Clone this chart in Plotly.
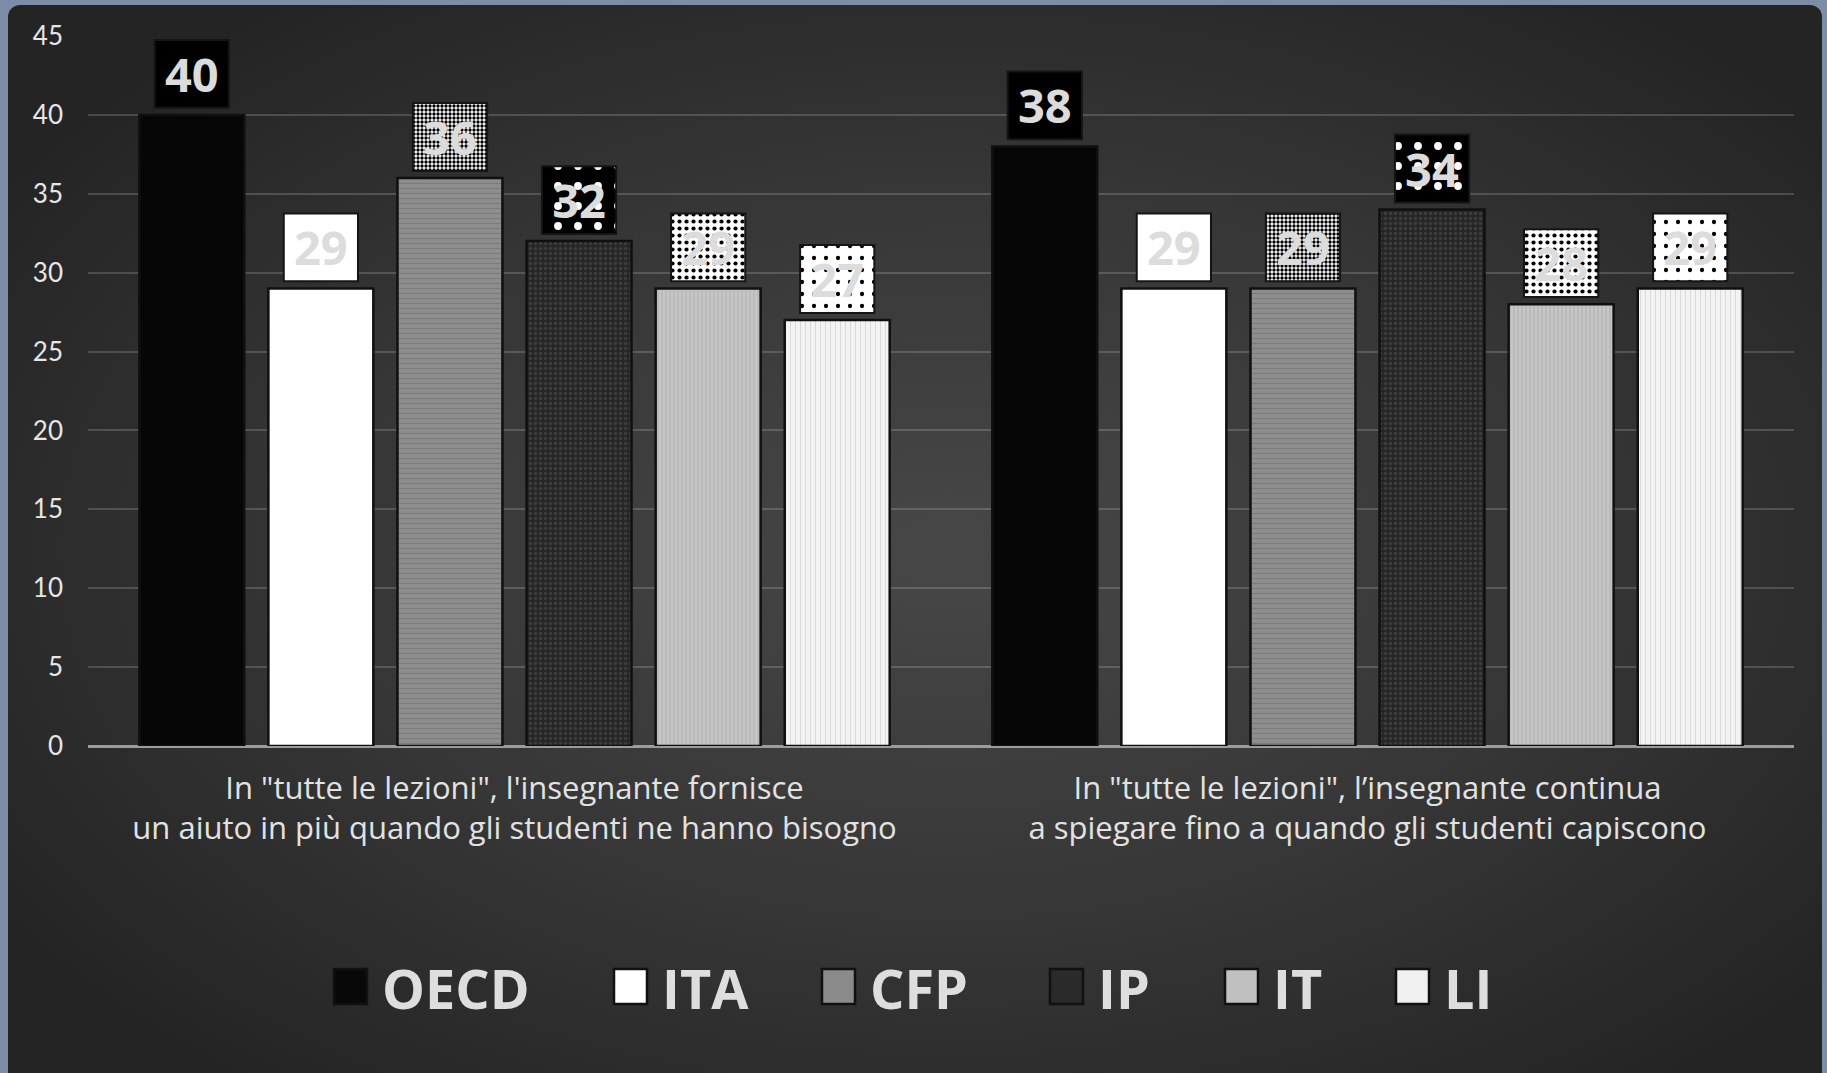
import base64
import plotly.graph_objects as go

# ---------------- data ----------------
categories = [
    'In "tutte le lezioni", l\'insegnante fornisce<br>un aiuto in più quando gli studenti ne hanno bisogno',
    'In "tutte le lezioni", l’insegnante continua<br>a spiegare fino a quando gli studenti capiscono',
]
series_names = ["OECD", "ITA", "CFP", "IP", "IT", "LI"]
oecd_vals = [40, 38]
ita_vals = [29, 29]
cfp_vals = [36, 29]
ip_vals = [32, 34]
it_vals = [29, 28]
li_vals = [27, 29]
series_values = [oecd_vals, ita_vals, cfp_vals, ip_vals, it_vals, li_vals]
y_ticks = [0, 5, 10, 15, 20, 25, 30, 35, 40, 45]

# ---------------- styles ----------------
W, H = 1827, 1073
ML, MR, MT, MB = 88, 33, 36, 327
PW, PH = W - ML - MR, H - MT - MB
BOLD_FONT = "Open Sans"

bar_styles = [
    dict(color="#060606", pattern=dict(shape="")),
    dict(color="#ffffff", pattern=dict(shape="")),
    dict(color="#8b8b8b", pattern=dict(shape="-", fgcolor="#7c7c7c", bgcolor="#8e8e8e", size=5, solidity=0.25, fillmode="replace")),
    dict(color="#2a2a2a", pattern=dict(shape=".", fgcolor="#3d3d3d", bgcolor="#262626", size=5, solidity=0.35, fillmode="replace")),
    dict(color="#c3c3c3", pattern=dict(shape="|", fgcolor="#b3b3b3", bgcolor="#c6c6c6", size=4, solidity=0.3, fillmode="replace")),
    dict(color="#f0f0f0", pattern=dict(shape="|", fgcolor="#dadada", bgcolor="#f3f3f3", size=5, solidity=0.2, fillmode="replace")),
]
box_styles = [
    dict(color="#000000", pattern=dict(shape="")),
    dict(color="#ffffff", pattern=dict(shape="")),
    dict(color="#808080", pattern=dict(shape=".", fgcolor="#000000", bgcolor="#ffffff", size=4, solidity=0.55, fillmode="replace")),
    dict(color="#000000", pattern=dict(shape=".", fgcolor="#ffffff", bgcolor="#000000", size=20, solidity=0.12, fillmode="replace")),
    dict(color="#ffffff", pattern=dict(shape=".", fgcolor="#000000", bgcolor="#ffffff", size=7, solidity=0.28, fillmode="replace")),
    dict(color="#ffffff", pattern=dict(shape=".", fgcolor="#000000", bgcolor="#ffffff", size=12, solidity=0.1, fillmode="replace")),
]
legend_colors = ["#080808", "#ffffff", "#8b8b8b", "#2a2a2a", "#c0c0c0", "#f0f0f0"]

BOX_GAP = 0.45     # data units between bar top and label box
BOX_H = 4.3        # label box height in data units
BOX_W = 0.087      # label box width in category units

fig = go.Figure()

for i, (name, vals) in enumerate(zip(series_names, series_values)):
    fig.add_trace(go.Bar(
        x=categories, y=vals, name=name, offsetgroup=str(i),
        marker=dict(color=bar_styles[i]["color"], pattern=bar_styles[i]["pattern"],
                    line=dict(color="#101010", width=2.5)),
        hoverinfo="skip", showlegend=False,
    ))

for i, (name, vals) in enumerate(zip(series_names, series_values)):
    fig.add_trace(go.Bar(
        x=categories, y=[BOX_H] * len(vals), base=[v + BOX_GAP for v in vals],
        offsetgroup=str(i), width=BOX_W,
        text=[f"<b>{v}</b>" for v in vals], textposition="inside", insidetextanchor="middle",
        textangle=0, constraintext="none",
        textfont=dict(family=BOLD_FONT, size=47, color="#dcdcdc", weight=700),
        marker=dict(color=box_styles[i]["color"], pattern=box_styles[i]["pattern"],
                    line=dict(color="#151515", width=2)),
        hoverinfo="skip", showlegend=False, cliponaxis=False,
    ))

# ---------------- background (frame + radial gradient panel) ----------------
svg = (
    f'<svg xmlns="http://www.w3.org/2000/svg" width="{W}" height="{H}">'
    '<defs><radialGradient id="g" cx="0.52" cy="0.5" r="0.62">'
    '<stop offset="0" stop-color="#474747"/><stop offset="0.55" stop-color="#363636"/>'
    '<stop offset="1" stop-color="#242424"/></radialGradient></defs>'
    f'<rect width="{W}" height="{H}" fill="#7e8da7"/>'
    f'<rect x="8" y="5" width="{W - 13}" height="{H + 20}" rx="12" fill="url(#g)"/>'
    '</svg>'
)
svg_uri = "data:image/svg+xml;base64," + base64.b64encode(svg.encode()).decode()

def px_x(px):
    return (px - ML) / PW

def px_y(py):
    return (H - MB - py) / PH

images = [dict(source=svg_uri, xref="paper", yref="paper",
               x=px_x(0), y=px_y(0), sizex=W / PW, sizey=H / PH,
               xanchor="left", yanchor="top", sizing="stretch", layer="below")]

# ---------------- manual legend ----------------
legend_x_px = [334, 614, 822, 1050, 1225, 1396]
shapes, annotations = [], []
for name, col, lx in zip(series_names, legend_colors, legend_x_px):
    shapes.append(dict(type="rect", xref="paper", yref="paper",
                       x0=px_x(lx), x1=px_x(lx + 33), y0=px_y(1004), y1=px_y(969),
                       fillcolor=col, line=dict(color="#111111", width=2.5), layer="above"))
    annotations.append(dict(text=f"<b>{name}</b>", xref="paper", yref="paper",
                            x=px_x(lx + 46), y=px_y(988), xanchor="left", yanchor="middle",
                            showarrow=False,
                            font=dict(family=BOLD_FONT, size=54, color="#dedede", weight=700)))

fig.update_layout(
    width=W, height=H,
    margin=dict(l=ML, r=MR, t=MT, b=MB, pad=0),
    paper_bgcolor="#7e8da7",
    plot_bgcolor="rgba(0,0,0,0)",
    barmode="group", bargap=0.092, bargroupgap=0.187,
    showlegend=False,
    images=images, shapes=shapes, annotations=annotations,
    font=dict(family="Lato", color="#e2e2e2"),
    xaxis=dict(
        showgrid=False, showline=False, ticks="", ticklabelstandoff=21,
        tickfont=dict(family="Open Sans", size=31, color="#e2e2e2"),
    ),
    yaxis=dict(
        range=[0, 45], tickvals=y_ticks, ticks="", showline=False,
        gridcolor="rgba(255,255,255,0.17)", gridwidth=2,
        zeroline=True, zerolinecolor="#9c9c9c", zerolinewidth=2.5,
        tickfont=dict(family="Lato", size=26, color="#e6e6e6"),
        ticklabelstandoff=24,
    ),
)

fig.write_html(
    "out.html",
    config={"displayModeBar": False},
    post_script="document.body.style.margin='0';document.body.style.padding='0';"
                "document.documentElement.style.margin='0';",
)
